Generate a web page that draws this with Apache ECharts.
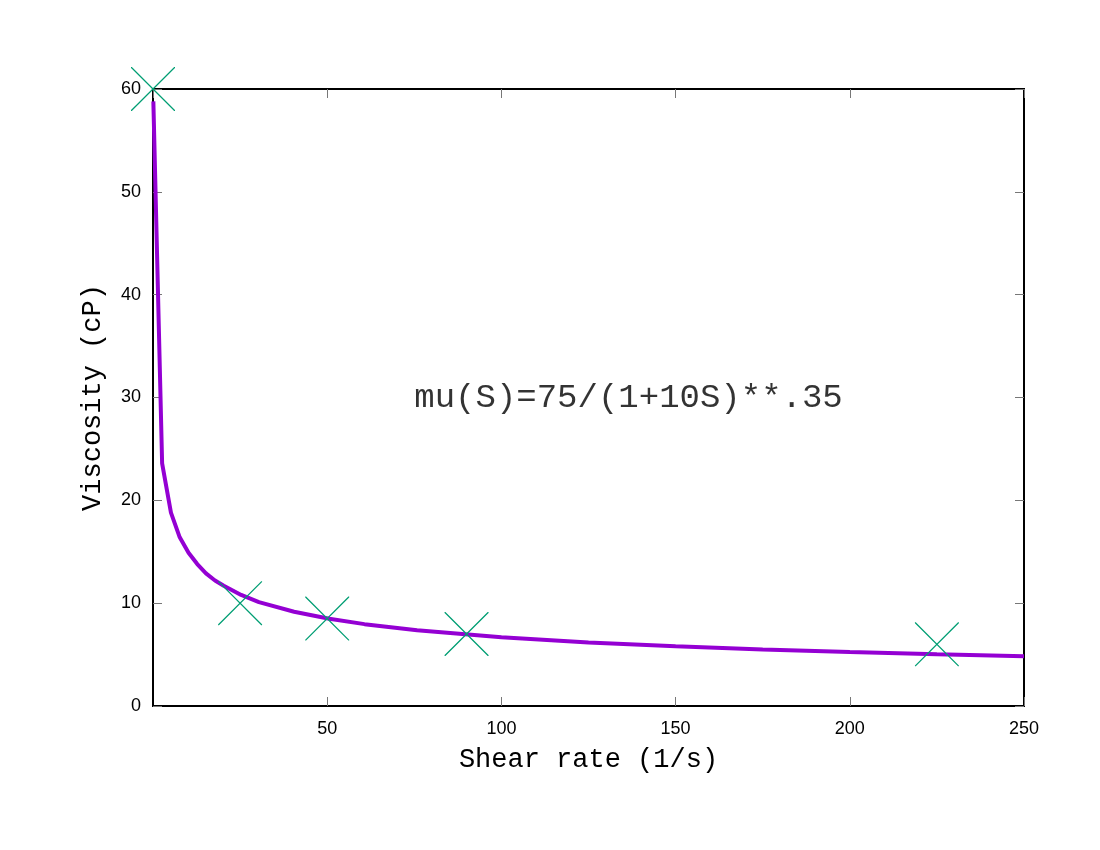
<!DOCTYPE html>
<html>
<head>
<meta charset="utf-8">
<script src="https://cdn.jsdelivr.net/npm/echarts@6/dist/echarts.min.js"></script>
<style>
  html, body { margin: 0; padding: 0; background: #fff; }
  #chart { width: 1100px; height: 850px; }
</style>
</head>
<body>
<div id="chart"></div>
<script>
'use strict';

// fitted curve (shear rate, viscosity)
var curveX = [0.1, 2.62, 5.15, 7.67, 10.2, 12.7, 15.2, 17.8, 20.3, 25.3, 30.4, 40.5, 50.6, 60.7, 75.8, 100, 125, 150, 175, 200, 225, 250];
var curveY = [58.8, 23.6, 18.8, 16.4, 14.9, 13.8, 12.9, 12.2, 11.7, 10.8, 10.1, 9.17, 8.48, 7.96, 7.36, 6.68, 6.18, 5.80, 5.49, 5.24, 5.03, 4.85];

// measured points
var measX = [0, 25, 50, 90, 225];
var measY = [60, 10, 8.5, 7, 6];

var formulaText = 'mu(S)=75/(1+10S)**.35';
var formulaPos = [75, 30];

var chart = echarts.init(document.getElementById('chart'));

var curveData = [];
for (var i = 0; i < curveX.length; i++) {
    curveData.push([curveX[i], curveY[i]]);
}
var measData = [];
for (var j = 0; j < measX.length; j++) {
    measData.push([measX[j], measY[j]]);
}

var monoFont = '"Liberation Mono", "DejaVu Sans Mono", monospace';
var sansFont = '"Liberation Sans", Arial, sans-serif';

// gnuplot style ticks: inward, on all four sides
function tick() {
    return {
        show: true,
        inside: true,
        length: 9,
        lineStyle: { color: '#777', width: 1 }
    };
}

// thin "X" point marker as a filled outline (44x44 box)
var crossPath = 'path://M0,0L0.9,0L44,43.1L44,44L43.1,44L0,0.9Z M44,0L44,0.9L0.9,44L0,44L0,43.1L43.1,0Z';

var option = {
    animation: false,
    backgroundColor: '#fff',
    grid: {
        left: 153,
        right: 76,
        top: 89,
        bottom: 144,
        show: true,
        borderColor: '#000',
        borderWidth: 2,
        backgroundColor: 'transparent'
    },
    xAxis: [{
        type: 'value',
        min: 0,
        max: 250,
        interval: 50,
        position: 'bottom',
        name: 'Shear rate (1/s)',
        nameLocation: 'middle',
        nameGap: 40,
        nameTextStyle: { fontFamily: monoFont, fontSize: 27, color: '#000' },
        axisLine: { show: false, onZero: false },
        axisTick: tick(),
        axisLabel: { showMinLabel: false, margin: 14, fontFamily: sansFont, fontSize: 18, color: '#000' },
        splitLine: { show: false }
    }, {
        type: 'value',
        min: 0,
        max: 250,
        interval: 50,
        position: 'top',
        axisLine: { show: false, onZero: false },
        axisTick: tick(),
        axisLabel: { show: false },
        splitLine: { show: false }
    }],
    yAxis: [{
        type: 'value',
        min: 0,
        max: 60,
        interval: 10,
        position: 'left',
        name: 'Viscosity (cP)',
        nameLocation: 'middle',
        nameGap: 47,
        nameTextStyle: { fontFamily: monoFont, fontSize: 27, color: '#000' },
        axisLine: { show: false, onZero: false },
        axisTick: tick(),
        axisLabel: { margin: 12, fontFamily: sansFont, fontSize: 18, color: '#000' },
        splitLine: { show: false }
    }, {
        type: 'value',
        min: 0,
        max: 60,
        interval: 10,
        position: 'right',
        axisLine: { show: false, onZero: false },
        axisTick: tick(),
        axisLabel: { show: false },
        splitLine: { show: false }
    }],
    series: [{
        name: 'fit',
        type: 'line',
        data: curveData,
        showSymbol: false,
        symbol: 'none',
        clip: true,
        lineStyle: { color: '#9400d3', width: 4 },
        z: 3
    }, {
        name: 'data',
        type: 'scatter',
        data: measData,
        symbol: crossPath,
        symbolSize: 44,
        clip: false,
        itemStyle: { color: '#009e73', opacity: 1 },
        z: 4
    }, {
        name: 'formula',
        type: 'scatter',
        xAxisIndex: 1,
        yAxisIndex: 1,
        data: [formulaPos],
        symbolSize: 0,
        silent: true,
        label: {
            show: true,
            formatter: formulaText,
            position: [0, 0],
            align: 'left',
            verticalAlign: 'middle',
            fontFamily: monoFont,
            fontSize: 34,
            color: '#000'
        },
        z: 5
    }]
};

chart.setOption(option);
</script>
</body>
</html>
